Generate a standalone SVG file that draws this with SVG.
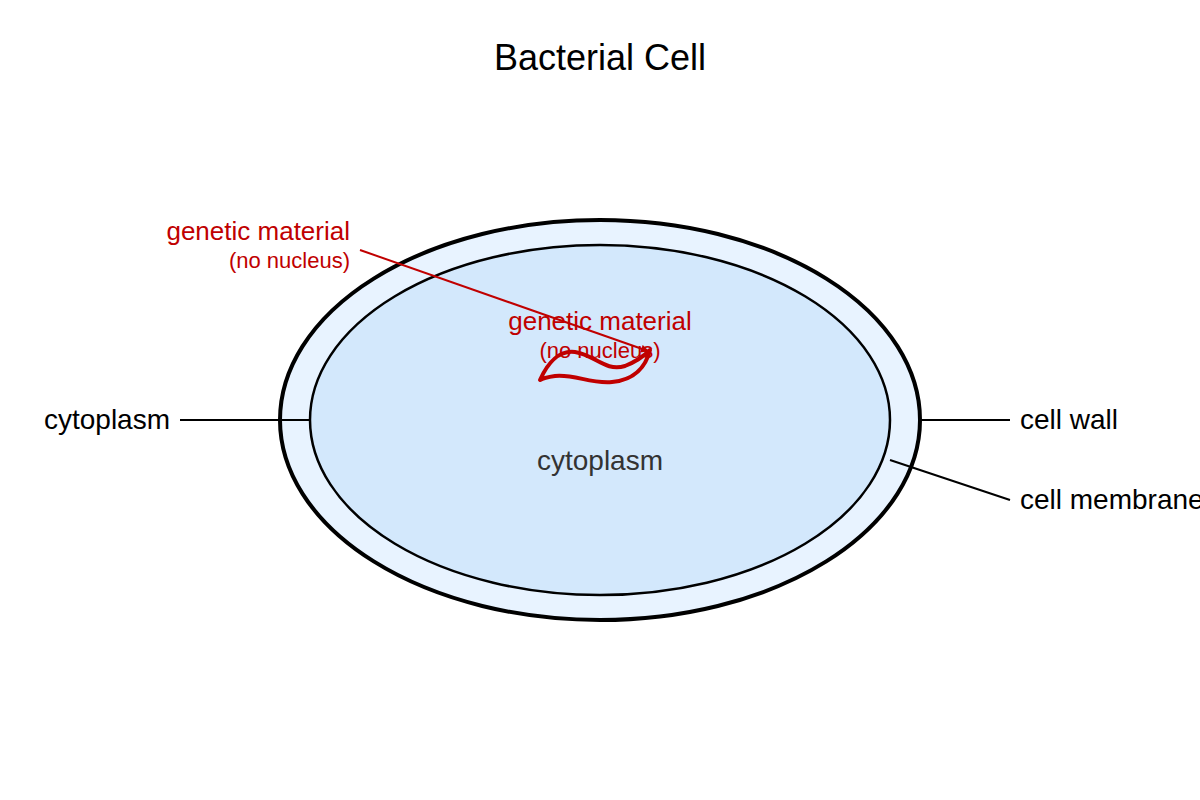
<svg xmlns="http://www.w3.org/2000/svg" width="1200" height="800" viewBox="0 0 1200 800">
<style>
text{font-family:"Liberation Sans",Arial,sans-serif}
.lbl{font-size:28px;fill:#000}
.red{fill:#c00000}
.ln{stroke:#000;stroke-width:2;fill:none}
</style>
<defs><marker id="ah" markerWidth="8" markerHeight="8" refX="7" refY="4" orient="auto" markerUnits="userSpaceOnUse"><path d="M0,0 L8,4 L0,8 z" fill="#c00000"/></marker></defs>
<rect width="1200" height="800" fill="#fff"/>
<text x="600" y="70" font-size="36" text-anchor="middle">Bacterial Cell</text>
<g id="cell-wall"><ellipse cx="600" cy="420" rx="320" ry="200" fill="#e8f3ff" stroke="#000" stroke-width="4"/></g>
<g id="cell-membrane"><ellipse cx="600" cy="420" rx="290" ry="175" fill="#d3e8fc" stroke="#000" stroke-width="2.5"/></g>
<g id="genetic-material">
<path d="M540,380 C548,362 560,350 575,352 C595,355 605,372 625,366 C640,360 648,352 650,350 C646,366 635,380 612,382 C590,384 575,374 555,376 C548,377 543,378 540,380 Z" fill="none" stroke="#c00000" stroke-width="4" stroke-linejoin="round"/>
<text x="600" y="330" font-size="26" text-anchor="middle" class="red">genetic material</text>
<text x="600" y="358" font-size="22" text-anchor="middle" class="red">(no nucleus)</text>
</g>
<text x="600" y="470" font-size="28" text-anchor="middle" fill="#333">cytoplasm</text>
<g id="connectors">
<line x1="180" y1="420" x2="310" y2="420" class="ln"/>
<line x1="920" y1="420" x2="1010" y2="420" class="ln"/>
<line x1="890" y1="460" x2="1010" y2="500" class="ln"/>
<line x1="360" y1="250" x2="648" y2="351" stroke="#c00000" stroke-width="2" marker-end="url(#ah)"/>
</g>
<g id="label-genetic"><text x="350" y="240" font-size="26" text-anchor="end" class="red">genetic material</text>
<text x="350" y="268" font-size="22" text-anchor="end" class="red">(no nucleus)</text></g>
<g id="label-cytoplasm"><text x="170" y="429" class="lbl" text-anchor="end">cytoplasm</text></g>
<g id="label-wall"><text x="1020" y="429" class="lbl">cell wall</text></g>
<g id="label-membrane"><text x="1020" y="509" class="lbl">cell membrane</text></g>
</svg>
